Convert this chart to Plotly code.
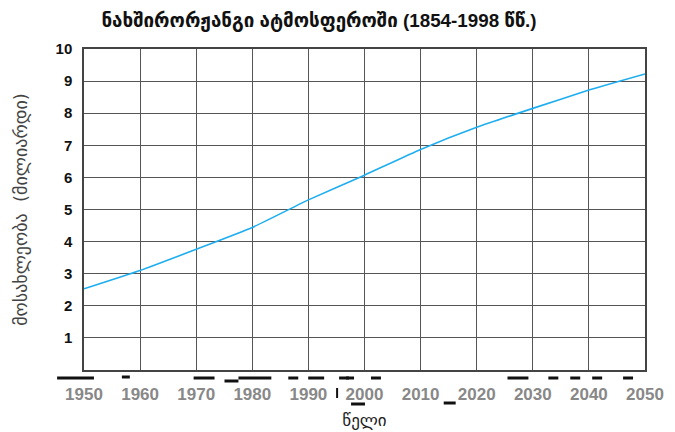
import plotly.graph_objects as go

years = [1950, 1960, 1970, 1980, 1990, 2000, 2010, 2020, 2030, 2040, 2050]
population = [2.53, 3.1, 3.76, 4.44, 5.3, 6.07, 6.87, 7.56, 8.15, 8.72, 9.22]
x_tick_labels = ["1950", "1960", "1970", "1980", "1990", "2000", "2010", "2020", "2030", "2040", "2050"]
y_ticks = [1, 2, 3, 4, 5, 6, 7, 8, 9, 10]

# scan-artifact dashes under the plot (page pixels: x0, x1, y)
artifact_dashes = [(55, 92, 378), (120, 128, 377), (192, 213, 378), (223, 237, 381), (237, 270, 378),
                   (287, 297, 378), (307, 323, 378), (338, 348, 378), (345, 353, 378), (370, 380, 378),
                   (507, 528, 378), (548, 558, 378), (570, 580, 378), (592, 602, 378), (623, 633, 378),
                   (443, 455, 403), (350, 364, 404)]

# page has an 8px body margin; compensate so the figure lands where the reference is
OFF = 8
L, R, T, B = 82, 645, 49, 370
W, H = 675, 432

fig = go.Figure()
fig.add_trace(go.Scatter(
    x=years, y=population, mode="lines",
    line=dict(color="#1eaef0", width=1.6, shape="spline", smoothing=0.4),
    showlegend=False, hoverinfo="skip"))

shapes = []
for x0, x1, y in artifact_dashes:
    shapes.append(dict(type="line", xref="paper", yref="paper",
                       x0=(x0 - L) / (R - L), x1=(x1 - L) / (R - L),
                       y0=(B - y) / (B - T), y1=(B - y) / (B - T),
                       line=dict(color="#111", width=3)))
shapes.append(dict(type="line", xref="paper", yref="paper",
                   x0=(336 - L) / (R - L), x1=(336 - L) / (R - L),
                   y0=(B - 388) / (B - T), y1=(B - 398) / (B - T),
                   line=dict(color="#111", width=2)))

fig.update_layout(
    width=W, height=H,
    margin=dict(l=L - OFF, r=W - R + OFF, t=T - OFF, b=H - B + OFF),
    paper_bgcolor="white", plot_bgcolor="white",
    font=dict(family="Liberation Sans, DejaVu Sans, Arial, sans-serif", color="#111"),
    shapes=shapes,
    title=dict(
        text="<b>ნახშირორჟანგი ატმოსფეროში (1854-1998 წწ.)</b>",
        x=(319 - OFF) / W, xanchor="center", xref="container",
        y=1 - (20 - OFF) / H, yanchor="middle", yref="container",
        font=dict(size=18.8, color="#111", family="Liberation Sans, DejaVu Sans, sans-serif")),
    xaxis=dict(
        range=[1950, 2050], tickvals=years, ticktext=x_tick_labels,
        showgrid=True, gridcolor="#555", gridwidth=1,
        showline=True, linecolor="#444", linewidth=1.5, mirror=True,
        ticks="", ticklabelstandoff=8, zeroline=False,
        tickfont=dict(size=17, color="#888", family="Liberation Sans, Arial, sans-serif", weight="bold"),
        title=dict(text="წელი", standoff=11, font=dict(size=17, color="#222", family="DejaVu Sans, sans-serif"))),
    yaxis=dict(
        range=[0, 10], tickvals=y_ticks,
        showgrid=True, gridcolor="#555", gridwidth=1,
        showline=True, linecolor="#444", linewidth=1.5, mirror=True,
        ticks="", ticklabelstandoff=7, zeroline=False,
        tickfont=dict(size=15, color="#111", family="Liberation Sans, Arial, sans-serif", weight="bold"),
        title=dict(text="მოსახლეობა  (მილიარდი)", standoff=23,
                   font=dict(size=18, color="#444", family="DejaVu Sans, sans-serif"))),
)

fig.write_html("out.html")
